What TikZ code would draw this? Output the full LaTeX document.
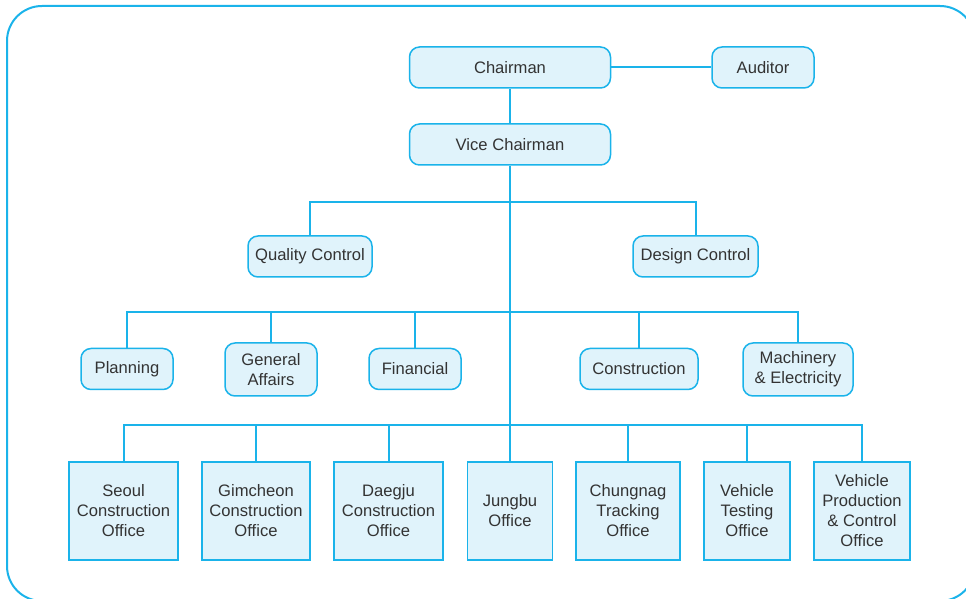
\documentclass[tikz,border=0pt]{standalone}
\usepackage{fontspec}
\setmainfont{Liberation Sans}
\usepackage{tikz}
\usepackage{xcolor}
\usetikzlibrary{positioning}
\definecolor{linecyan}{HTML}{1AB3EA}
\definecolor{boxfill}{HTML}{E0F3FB}
\definecolor{txtgray}{HTML}{333333}
\tikzstyle{deptbox} = [rectangle, rounded corners=5pt, minimum height=20.5pt, inner sep=0pt, text centered, align=center, draw=linecyan, line width=0.75pt, fill=boxfill, text=txtgray]
\tikzstyle{officebox} = [rectangle, minimum height=49pt, inner sep=0pt, text centered, align=center, draw=linecyan, line width=0.75pt, fill=boxfill, text=txtgray]
\tikzstyle{link} = [draw=linecyan, line width=1pt]

\begin{document}
\begin{tikzpicture}[x=0.5pt, y=-0.5pt, font=\fontsize{8.3}{10}\selectfont]
        \useasboundingbox (0,0) rectangle (966,599);
        \draw [link, rounded corners=17.5pt] (7,6) rectangle (975,601);

        \node (chairman) [deptbox, minimum width=100.5pt] at (510,67.5) {Chairman};
        \node (auditor) [deptbox, minimum width=51pt] at (763,67.5) {Auditor};
        \node (vice) [deptbox, minimum width=100.5pt] at (510,144.5) {Vice Chairman};
        \node (quality) [deptbox, minimum width=62pt] at (310,256.5) {Quality Control};
        \node (design) [deptbox, minimum width=62.5pt] at (695.5,256.5) {Design Control};

        \node (planning) [deptbox, minimum width=46pt] at (127,369) {Planning};
        \node (general) [deptbox, minimum width=46pt, minimum height=26.5pt] at (271,369.5) {General\\Affairs};
        \node (financial) [deptbox, minimum width=46pt] at (415,369) {Financial};
        \node (construction) [deptbox, minimum width=59pt] at (639,369) {Construction};
        \node (machinery) [deptbox, minimum width=55pt, minimum height=26.5pt] at (798,369.5) {Machinery\\\& Electricity};

        \node (seoul) [officebox, minimum width=54.5pt] at (123.5,511) {Seoul\\Construction\\Office};
        \node (gimcheon) [officebox, minimum width=54pt] at (256,511) {Gimcheon\\Construction\\Office};
        \node (daegju) [officebox, minimum width=54.5pt] at (388.5,511) {Daegju\\Construction\\Office};
        \node (jungbu) [officebox, minimum width=42.5pt] at (510,511) {Jungbu\\Office};
        \node (chungnag) [officebox, minimum width=52pt] at (628,511) {Chungnag\\Tracking\\Office};
        \node (testing) [officebox, minimum width=43pt] at (747,511) {Vehicle\\Testing\\Office};
        \node (production) [officebox, minimum width=48pt] at (862,511) {Vehicle\\Production\\\& Control\\Office};

        \coordinate (bus1) at (510,202);
        \coordinate (bus2) at (510,312);
        \coordinate (bus3) at (510,425);

        \draw [link] (chairman) -- (auditor);
        \draw [link] (chairman) -- (vice);
        \draw [link] (vice) -- (bus3);
        \draw [link] (bus1) -| (quality.north);
        \draw [link] (bus1) -| (design.north);
        \foreach \dept in {planning,general,financial,construction,machinery}
            \draw [link] (bus2) -| (\dept.north);
        \foreach \office in {seoul,gimcheon,daegju,jungbu,chungnag,testing,production}
            \draw [link] (bus3) -| (\office.north);

    \end{tikzpicture}
\end{document}
